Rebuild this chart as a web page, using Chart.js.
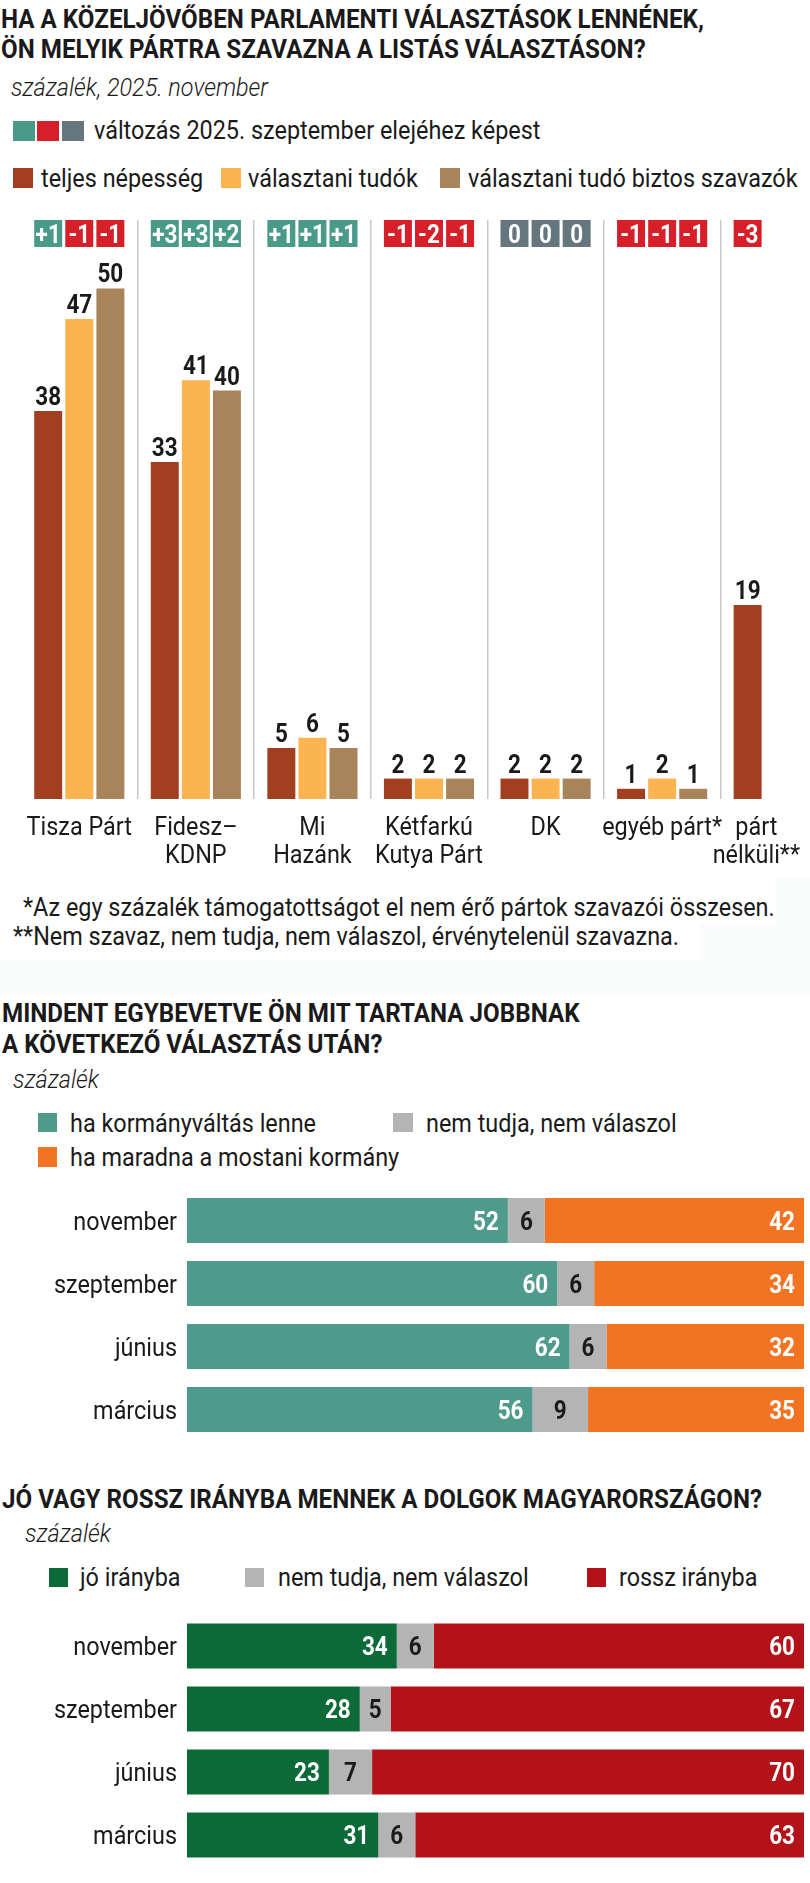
<!DOCTYPE html>
<html lang="hu">
<head>
<meta charset="UTF-8" />
<title>Pártpreferencia 2025. november</title>
<script src="https://cdn.jsdelivr.net/npm/chart.js"></script>
<style>
  body {
    margin: 0;
    width: 810px;
    height: 1883px;
    overflow: hidden;
    background: #fff;
    position: relative;
    font-family: Roboto, "Noto Sans", sans-serif;
    color: #1a1a1a;
  }
  .t {
    position: absolute;
    white-space: nowrap;
    line-height: 1;
    font-size: 26px;
    transform-origin: 0 0;
    transform: scaleX(0.9);
  }
  .title { font-weight: 700; transform: scaleX(0.93); }
  .sub { font-style: italic; font-weight: 300; transform: scaleX(0.9); }
  .sq { position: absolute; }
  .wrap { position: absolute; left: 0; overflow: hidden; }
</style>
</head>
<body>

<!-- 1. ábra -->
<div class="t title" style="left:1px;top:6px">HA A KÖZELJÖVŐBEN PARLAMENTI VÁLASZTÁSOK LENNÉNEK,</div>
<div class="t title" style="left:1px;top:36px">ÖN MELYIK PÁRTRA SZAVAZNA A LISTÁS VÁLASZTÁSON?</div>
<div class="t sub" style="left:11px;top:74px">százalék, 2025. november</div>

<div class="sq" style="left:13px;top:121px;width:22px;height:20px;background:#4a9a8a"></div>
<div class="sq" style="left:37px;top:121px;width:22px;height:20px;background:#d71f2a"></div>
<div class="sq" style="left:62px;top:121px;width:22px;height:20px;background:#66767f"></div>
<div class="t" style="left:94px;top:117px">változás 2025. szeptember elejéhez képest</div>

<div class="sq" style="left:13px;top:168px;width:20px;height:20px;background:#a23f21"></div>
<div class="t" style="left:41px;top:165px">teljes népesség</div>
<div class="sq" style="left:221px;top:168px;width:20px;height:20px;background:#fbb450"></div>
<div class="t" style="left:248px;top:165px">választani tudók</div>
<div class="sq" style="left:440px;top:168px;width:20px;height:20px;background:#a8845b"></div>
<div class="t" style="left:468px;top:165px">választani tudó biztos szavazók</div>

<div class="wrap" style="top:200px;width:810px;height:680px">
  <canvas id="partChart" width="837" height="680" style="width:837px;height:680px"></canvas>
</div>

<!-- lábjegyzet halvány háttere -->
<div class="sq" style="left:0;top:878px;width:810px;height:115px;background:#fafbfb"></div>
<div class="sq" style="left:0;top:878px;width:776px;height:47px;background:#fff"></div>
<div class="sq" style="left:0;top:925px;width:700px;height:35px;background:#fff"></div>
<div class="t" style="left:23px;top:894px">*Az egy százalék támogatottságot el nem érő pártok szavazói összesen.</div>
<div class="t" style="left:13px;top:923px">**Nem szavaz, nem tudja, nem válaszol, érvénytelenül szavazna.</div>

<!-- 2. ábra -->
<div class="t title" style="left:2px;top:1000px">MINDENT EGYBEVETVE ÖN MIT TARTANA JOBBNAK</div>
<div class="t title" style="left:2px;top:1031px">A KÖVETKEZŐ VÁLASZTÁS UTÁN?</div>
<div class="t sub" style="left:13px;top:1066px">százalék</div>

<div class="sq" style="left:38px;top:1113px;width:19px;height:19px;background:#4e9b8c"></div>
<div class="t" style="left:70px;top:1110px">ha kormányváltás lenne</div>
<div class="sq" style="left:393px;top:1113px;width:20px;height:19px;background:#b4b4b4"></div>
<div class="t" style="left:426px;top:1110px">nem tudja, nem válaszol</div>
<div class="sq" style="left:38px;top:1147px;width:19px;height:20px;background:#f27322"></div>
<div class="t" style="left:70px;top:1144px">ha maradna a mostani kormány</div>

<div class="wrap" style="top:1180px;width:810px;height:270px">
  <canvas id="kormanyChart" width="810" height="270" style="width:810px;height:270px"></canvas>
</div>

<!-- 3. ábra -->
<div class="t title" style="left:2px;top:1486px">JÓ VAGY ROSSZ IRÁNYBA MENNEK A DOLGOK MAGYARORSZÁGON?</div>
<div class="t sub" style="left:25px;top:1520px">százalék</div>

<div class="sq" style="left:49px;top:1568px;width:19px;height:19px;background:#0b6a37"></div>
<div class="t" style="left:80px;top:1564px">jó irányba</div>
<div class="sq" style="left:245px;top:1568px;width:19px;height:19px;background:#b4b4b4"></div>
<div class="t" style="left:278px;top:1564px">nem tudja, nem válaszol</div>
<div class="sq" style="left:587px;top:1568px;width:19px;height:19px;background:#b21218"></div>
<div class="t" style="left:619px;top:1564px">rossz irányba</div>

<div class="wrap" style="top:1605px;width:810px;height:270px">
  <canvas id="iranyChart" width="810" height="270" style="width:810px;height:270px"></canvas>
</div>

<script>
  // pártok
  const parties = [['Tisza Párt'], ['Fidesz–', 'KDNP'], ['Mi', 'Hazánk'], ['Kétfarkú', 'Kutya Párt'], ['DK'], ['egyéb párt*'], ['párt', 'nélküli**']];
  const teljes = [38, 33, 5, 2, 2, 1, 19];
  const tudok = [47, 41, 6, 2, 2, 2, null];
  const biztos = [50, 40, 5, 2, 2, 1, null];
  // változás szeptember elejéhez képest
  const valtTeljes = [1, 3, 1, -1, 0, -1, -3];
  const valtTudok = [-1, 3, 1, -2, 0, -1, null];
  const valtBiztos = [-1, 2, 1, -1, 0, -1, null];

  // kormányváltás
  const honapok = ['november', 'szeptember', 'június', 'március'];
  const kormanyvaltas = [52, 60, 62, 56];
  const kormanyNemTudja = [6, 6, 6, 9];
  const maradna = [42, 34, 32, 35];

  // irány
  const joIrany = [34, 28, 23, 31];
  const iranyNemTudja = [6, 5, 7, 6];
  const rosszIrany = [60, 67, 70, 63];

  const FONT = 'Roboto, "Noto Sans", sans-serif';
  const labelFont = '26px ' + FONT;
  const valueFont = 'bold 25px ' + FONT;
  const SX = 0.9;
  const INK = '#1a1a1a';

  function drawText(ctx, text, x, y, font, color, align) {
    ctx.save();
    ctx.font = font;
    ctx.fillStyle = color;
    ctx.textBaseline = 'alphabetic';
    ctx.textAlign = align;
    ctx.translate(x, y);
    ctx.scale(SX, 1);
    ctx.fillText(text, 0, 0);
    ctx.restore();
  }

  function textWidth(ctx, text, font) {
    ctx.save();
    ctx.font = font;
    const w = ctx.measureText(text).width * SX;
    ctx.restore();
    return w;
  }

  const partLabels = {
    id: 'partLabels',
    afterDatasetsDraw(chart) {
      const ctx = chart.ctx;
      const area = chart.chartArea;
      chart.data.datasets.forEach((ds, i) => {
        chart.getDatasetMeta(i).data.forEach((bar, j) => {
          const v = ds.data[j];
          if (v == null) return;
          drawText(ctx, String(v), bar.x, bar.y - 6, valueFont, INK, 'center');
          const d = ds.valt[j];
          if (d == null) return;
          ctx.fillStyle = d > 0 ? '#4a9a8a' : d < 0 ? '#d71f2a' : '#66767f';
          ctx.fillRect(bar.x - bar.width / 2, area.top, bar.width, 27);
          drawText(ctx, (d > 0 ? '+' : '') + d, bar.x, area.top + 23, valueFont, '#fff', 'center');
        });
      });
      const xs = chart.scales.x;
      parties.forEach((lines, j) => {
        let cx = xs.getPixelForValue(j);
        const w = Math.max(...lines.map(t => textWidth(ctx, t, labelFont)));
        if (cx + w / 2 > 800) cx = 800 - w / 2;
        lines.forEach((t, k) => drawText(ctx, t, cx, area.bottom + 36 + k * 28, labelFont, INK, 'center'));
      });
    }
  };

  new Chart(document.getElementById('partChart'), {
    type: 'bar',
    data: {
      labels: parties.map(p => p.join(' ')),
      datasets: [
        { label: 'teljes népesség', data: teljes, valt: valtTeljes, backgroundColor: '#a23f21' },
        { label: 'választani tudók', data: tudok, valt: valtTudok, backgroundColor: '#fbb450' },
        { label: 'választani tudó biztos szavazók', data: biztos, valt: valtBiztos, backgroundColor: '#a8845b' }
      ]
    },
    options: {
      responsive: false,
      animation: false,
      layout: { padding: { top: 20, bottom: 81, left: 21, right: 0 } },
      plugins: { legend: { display: false }, tooltip: { enabled: false } },
      datasets: { bar: { categoryPercentage: 0.8, barPercentage: 0.9, borderWidth: 0 } },
      scales: {
        x: {
          ticks: { display: false },
          border: { display: false },
          grid: {
            offset: true,
            drawTicks: false,
            lineWidth: 1.5,
            color: c => (c.index === 0 ? 'rgba(0,0,0,0)' : '#c8c8c8')
          },
          afterFit: s => { s.height = 0; }
        },
        y: { display: false, min: 0, max: 56.7 }
      }
    },
    plugins: [partLabels]
  });

  function stackLabels(id) {
    return {
      id: id,
      afterDatasetsDraw(chart) {
        const ctx = chart.ctx;
        const area = chart.chartArea;
        chart.getDatasetMeta(0).data.forEach((bar, j) => {
          drawText(ctx, chart.data.labels[j], area.left - 10, bar.y + 9, labelFont, INK, 'right');
        });
        chart.data.datasets.forEach((ds, i) => {
          chart.getDatasetMeta(i).data.forEach((bar, j) => {
            const v = String(ds.data[j]);
            if (i === 1) {
              drawText(ctx, v, (bar.x + bar.base) / 2, bar.y + 9, valueFont, INK, 'center');
            } else {
              drawText(ctx, v, bar.x - 9, bar.y + 9, valueFont, '#fff', 'right');
            }
          });
        });
      }
    };
  }

  function stackOptions(padTop, padBottom) {
    return {
      indexAxis: 'y',
      responsive: false,
      animation: false,
      layout: { padding: { top: padTop, bottom: padBottom, left: 187, right: 6 } },
      plugins: { legend: { display: false }, tooltip: { enabled: false } },
      datasets: { bar: { categoryPercentage: 1, barPercentage: 0.714, borderWidth: 0 } },
      scales: {
        x: { display: false, stacked: true, min: 0, max: 100 },
        y: { display: false, stacked: true }
      }
    };
  }

  new Chart(document.getElementById('kormanyChart'), {
    type: 'bar',
    data: {
      labels: honapok,
      datasets: [
        { label: 'ha kormányváltás lenne', data: kormanyvaltas, backgroundColor: '#4e9b8c' },
        { label: 'nem tudja, nem válaszol', data: kormanyNemTudja, backgroundColor: '#b4b4b4' },
        { label: 'ha maradna a mostani kormány', data: maradna, backgroundColor: '#f27322' }
      ]
    },
    options: stackOptions(9, 9),
    plugins: [stackLabels('kormanyLabels')]
  });

  new Chart(document.getElementById('iranyChart'), {
    type: 'bar',
    data: {
      labels: honapok,
      datasets: [
        { label: 'jó irányba', data: joIrany, backgroundColor: '#0b6a37' },
        { label: 'nem tudja, nem válaszol', data: iranyNemTudja, backgroundColor: '#b4b4b4' },
        { label: 'rossz irányba', data: rosszIrany, backgroundColor: '#b21218' }
      ]
    },
    options: stackOptions(9.5, 8.5),
    plugins: [stackLabels('iranyLabels')]
  });
</script>

</body>
</html>
